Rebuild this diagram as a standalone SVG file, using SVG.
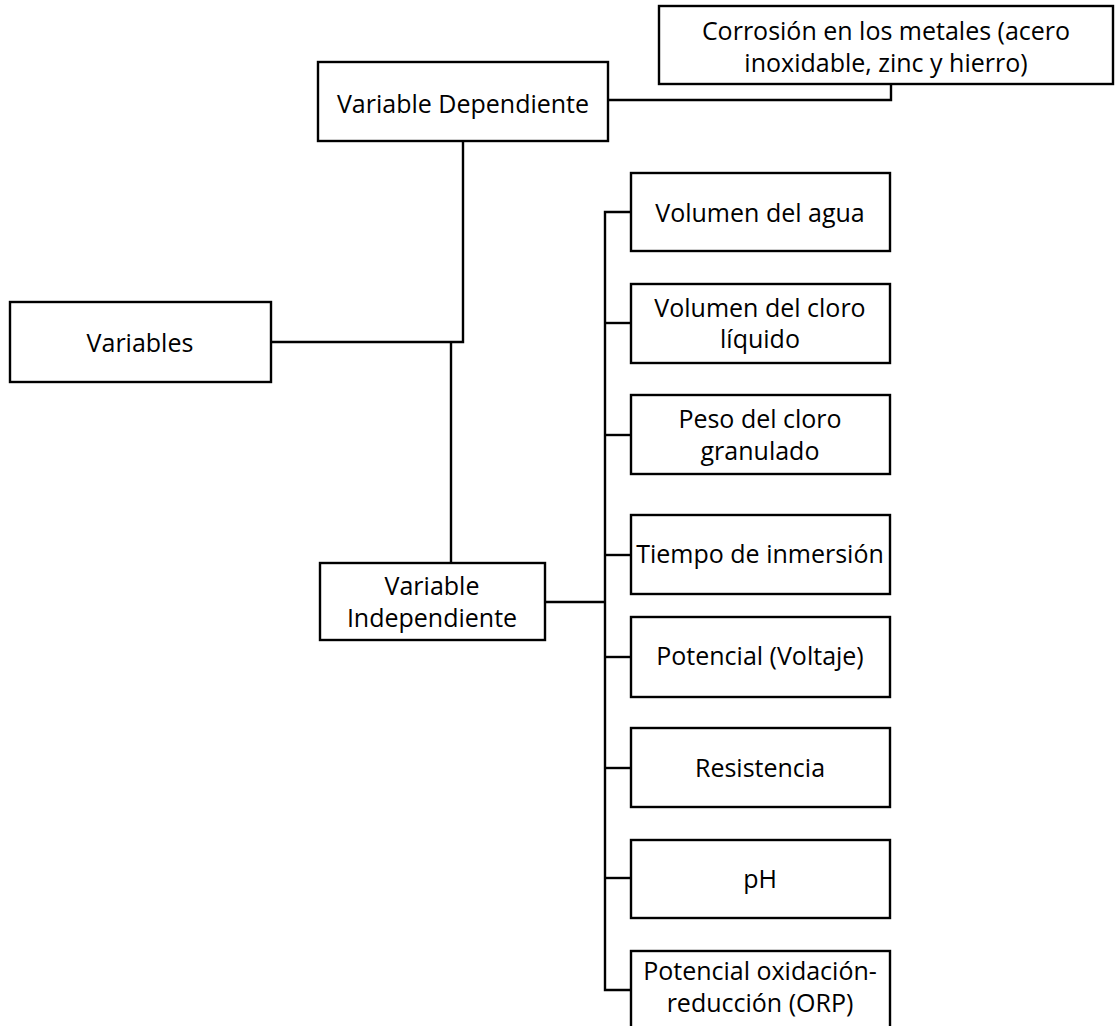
<svg xmlns="http://www.w3.org/2000/svg" width="1117" height="1026" viewBox="0 0 1117 1026">
<style>
.box{fill:#fff;stroke:#000;stroke-width:2.4}
.con{fill:none;stroke:#000;stroke-width:2.4}
text{font-family:"Open Sans","Noto Sans",sans-serif;font-size:25px;fill:#000;text-anchor:middle}
</style>
<rect width="1117" height="1026" fill="#fff"/>
<g id="connectors">
<polyline class="con" points="608,100 891,100 891,84"/>
<polyline class="con" points="271,342 463,342 463,141"/>
<line class="con" x1="451" y1="342" x2="451" y2="563"/>
<line class="con" x1="545" y1="602" x2="606" y2="602" stroke-width="3"/>
<polyline class="con" points="631,212 605,212 605,990 631,990"/>
<line class="con" x1="605" y1="323" x2="631" y2="323"/>
<line class="con" x1="605" y1="435" x2="631" y2="435"/>
<line class="con" x1="605" y1="555" x2="631" y2="555"/>
<line class="con" x1="605" y1="657" x2="631" y2="657"/>
<line class="con" x1="605" y1="768" x2="631" y2="768"/>
<line class="con" x1="605" y1="878" x2="631" y2="878"/>
</g>
<g id="corrosion"><rect class="box" x="659" y="6" width="454" height="78"/><text x="886" y="40">Corrosión en los metales (acero</text><text x="886" y="72">inoxidable, zinc y hierro)</text></g>
<g id="dependiente"><rect class="box" x="318" y="62" width="290" height="79"/><text x="463" y="113">Variable Dependiente</text></g>
<g id="variables"><rect class="box" x="10" y="302" width="261" height="80"/><text x="140" y="352">Variables</text></g>
<g id="independiente"><rect class="box" x="320" y="563" width="225" height="77"/><text x="432" y="595">Variable</text><text x="432" y="627">Independiente</text></g>
<g id="agua"><rect class="box" x="631" y="173" width="259" height="78"/><text x="760" y="222">Volumen del agua</text></g>
<g id="cloro-liquido"><rect class="box" x="631" y="284" width="259" height="79"/><text x="760" y="317">Volumen del cloro</text><text x="760" y="348">líquido</text></g>
<g id="cloro-granulado"><rect class="box" x="631" y="395" width="259" height="79"/><text x="760" y="428">Peso del cloro</text><text x="760" y="460">granulado</text></g>
<g id="tiempo"><rect class="box" x="631" y="515" width="259" height="79"/><text x="760" y="563">Tiempo de inmersión</text></g>
<g id="potencial"><rect class="box" x="631" y="617" width="259" height="80"/><text x="760" y="665">Potencial (Voltaje)</text></g>
<g id="resistencia"><rect class="box" x="631" y="728" width="259" height="79"/><text x="760" y="777">Resistencia</text></g>
<g id="ph"><rect class="box" x="631" y="840" width="259" height="78"/><text x="760" y="888">pH</text></g>
<g id="orp"><rect class="box" x="631" y="951" width="259" height="90"/><text x="760" y="980">Potencial oxidación-</text><text x="760" y="1012">reducción (ORP)</text></g>
</svg>
